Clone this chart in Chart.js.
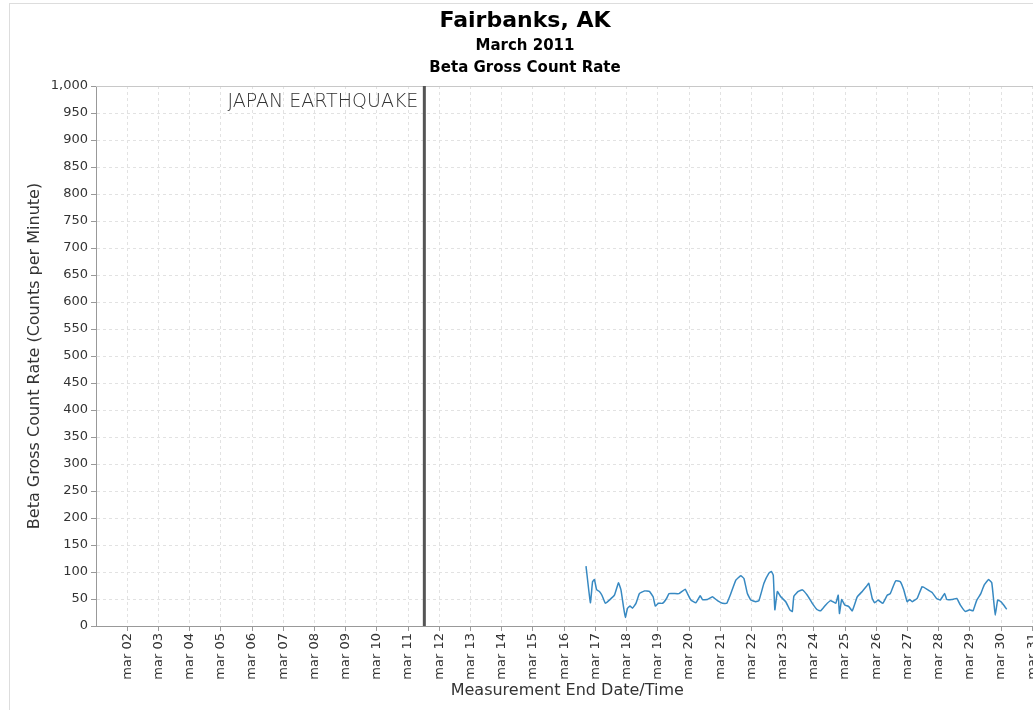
<!DOCTYPE html>
<html>
<head>
<meta charset="utf-8">
<title>Fairbanks, AK - Beta Gross Count Rate</title>
<script src="https://cdn.jsdelivr.net/npm/chart.js@4.4.1/dist/chart.umd.min.js"></script>
<style>
  html, body { margin: 0; padding: 0; background: #fff; overflow: hidden; }
  #frame { position: absolute; left: 9px; top: 3px; width: 1040px; height: 707px;
           border-left: 1px solid #ddd; border-top: 1px solid #ddd; }
  canvas { display: block; }
</style>
</head>
<body>
<div id="frame"><canvas id="chart" width="1040" height="706"></canvas></div>
<script>
// tick positions on the date axis (day of March)
const tickDays = [2, 3, 4, 5, 6, 7, 8, 9, 10, 11, 12, 13, 14, 15, 16, 17, 18, 19, 20,
  21, 22, 23, 24, 25, 26, 27, 28, 29, 30, 31];

// measurement end time (day of March, fractional) and beta gross count rate (cpm)
const days = [16.70, 16.84, 16.91, 16.97, 17.04, 17.13, 17.21, 17.32, 17.45, 17.61,
  17.74, 17.82, 17.90, 17.96, 18.03, 18.11, 18.19, 18.30, 18.41, 18.57,
  18.73, 18.85, 18.92, 19.02, 19.15, 19.28, 19.36, 19.52, 19.68, 19.88,
  19.95, 20.06, 20.22, 20.36, 20.43, 20.59, 20.75, 20.91, 21.07, 21.21,
  21.34, 21.50, 21.66, 21.76, 21.87, 21.98, 22.14, 22.24, 22.40, 22.56,
  22.64, 22.70, 22.75, 22.83, 22.94, 23.10, 23.23, 23.31, 23.36, 23.50,
  23.63, 23.79, 23.95, 24.11, 24.22, 24.38, 24.54, 24.70, 24.78, 24.82,
  24.89, 24.99, 25.12, 25.23, 25.39, 25.55, 25.68, 25.76, 25.87, 25.95,
  26.06, 26.21, 26.35, 26.45, 26.56, 26.63, 26.77, 26.88, 26.99, 27.07,
  27.15, 27.31, 27.47, 27.63, 27.79, 27.93, 28.05, 28.19, 28.26, 28.42,
  28.58, 28.69, 28.85, 28.99, 29.10, 29.22, 29.35, 29.46, 29.60, 29.70,
  29.76, 29.81, 29.89, 29.99, 30.08, 30.18];
const counts = [111, 43, 82, 86, 67, 64, 57, 42, 48, 57,
  80, 67, 36, 16, 33, 37, 33, 42, 60, 65,
  64, 54, 37, 42, 42, 51, 60, 60, 60, 68,
  60, 48, 43, 56, 49, 49, 54, 47, 42, 42,
  60, 85, 93, 88, 60, 48, 45, 47, 79, 98,
  101, 94, 30, 64, 54, 45, 30, 27, 55, 64,
  67, 57, 42, 30, 28, 39, 47, 42, 57, 23,
  49, 39, 36, 28, 54, 64, 73, 79, 51, 43,
  48, 42, 57, 60, 76, 84, 82, 67, 45, 49,
  45, 51, 73, 68, 62, 51, 48, 60, 49, 49,
  51, 39, 27, 30, 28, 48, 60, 76, 86, 80,
  48, 20, 48, 45, 39, 31];

const earthquakeDay = 11.52;
const earthquakeLabel = 'JAPAN EARTHQUAKE';

const FONT = 'DejaVu Sans';

const markerPlugin = {
  id: 'marker',
  beforeDatasetsDraw(chart) {
    const { ctx, chartArea: a, scales: { x } } = chart;
    ctx.save();
    // light outline on the top / right of the plot
    ctx.strokeStyle = '#c8c8c8';
    ctx.lineWidth = 1;
    ctx.beginPath();
    ctx.moveTo(a.left, a.top + 0.5);
    ctx.lineTo(a.right - 0.5, a.top + 0.5);
    ctx.lineTo(a.right - 0.5, a.bottom);
    ctx.stroke();
    // earthquake marker
    const px = x.getPixelForValue(earthquakeDay);
    ctx.strokeStyle = '#555';
    ctx.lineWidth = 3;
    ctx.beginPath();
    ctx.moveTo(px, a.top);
    ctx.lineTo(px, a.bottom);
    ctx.stroke();
    ctx.font = '200 19px "' + FONT + '"';
    ctx.fillStyle = '#333';
    ctx.textAlign = 'right';
    ctx.textBaseline = 'alphabetic';
    ctx.fillText(earthquakeLabel, px - 6, a.top + 21);
    ctx.restore();
  }
};

new Chart(document.getElementById('chart'), {
  type: 'line',
  data: {
    datasets: [{
      data: days.map((d, i) => ({ x: d, y: counts[i] })),
      borderColor: '#3789c2',
      borderWidth: 1.5,
      pointRadius: 0,
      tension: 0.1,
      fill: false
    }]
  },
  options: {
    responsive: false,
    animation: false,
    layout: { padding: { left: 0, right: 10, top: 0, bottom: 0 } },
    plugins: {
      legend: { display: false },
      tooltip: { enabled: false },
      title: {
        display: true,
        text: 'Fairbanks, AK',
        color: '#000',
        font: { family: FONT, size: 22, weight: 'bold' },
        padding: { top: 4, bottom: 0 }
      },
      subtitle: {
        display: true,
        text: ['March 2011', 'Beta Gross Count Rate'],
        color: '#000',
        font: { family: FONT, size: 15, weight: 'bold', lineHeight: 1.467 },
        padding: { top: 1, bottom: 6.6 }
      }
    },
    scales: {
      x: {
        type: 'linear',
        min: 1,
        max: 31.2,
        afterBuildTicks: s => { s.ticks = tickDays.map(v => ({ value: v })); },
        afterFit: s => { s.height = 84; },
        ticks: {
          autoSkip: false,
          minRotation: 90,
          maxRotation: 90,
          padding: 2,
          color: '#333',
          font: { family: FONT, size: 13 },
          callback: v => 'mar ' + String(v).padStart(2, '0')
        },
        grid: { color: '#e2e2e2', tickLength: 5, tickColor: '#999' },
        border: { color: '#999', dash: [3, 3] },
        title: {
          display: true,
          text: 'Measurement End Date/Time',
          color: '#333',
          font: { family: FONT, size: 16 },
          padding: { top: 0, bottom: 9.4 }
        }
      },
      y: {
        min: 0,
        max: 1000,
        afterFit: s => { s.width = 86; },
        ticks: {
          stepSize: 50,
          padding: 3,
          color: '#333',
          font: { family: FONT, size: 13 }
        },
        grid: { color: '#e2e2e2', tickLength: 5, tickColor: '#999' },
        border: { color: '#999', dash: [3, 3] },
        title: {
          display: true,
          text: 'Beta Gross Count Rate (Counts per Minute)',
          color: '#333',
          font: { family: FONT, size: 16 },
          padding: { top: 15.4, bottom: 0 }
        }
      }
    }
  },
  plugins: [markerPlugin]
});
</script>
</body>
</html>
